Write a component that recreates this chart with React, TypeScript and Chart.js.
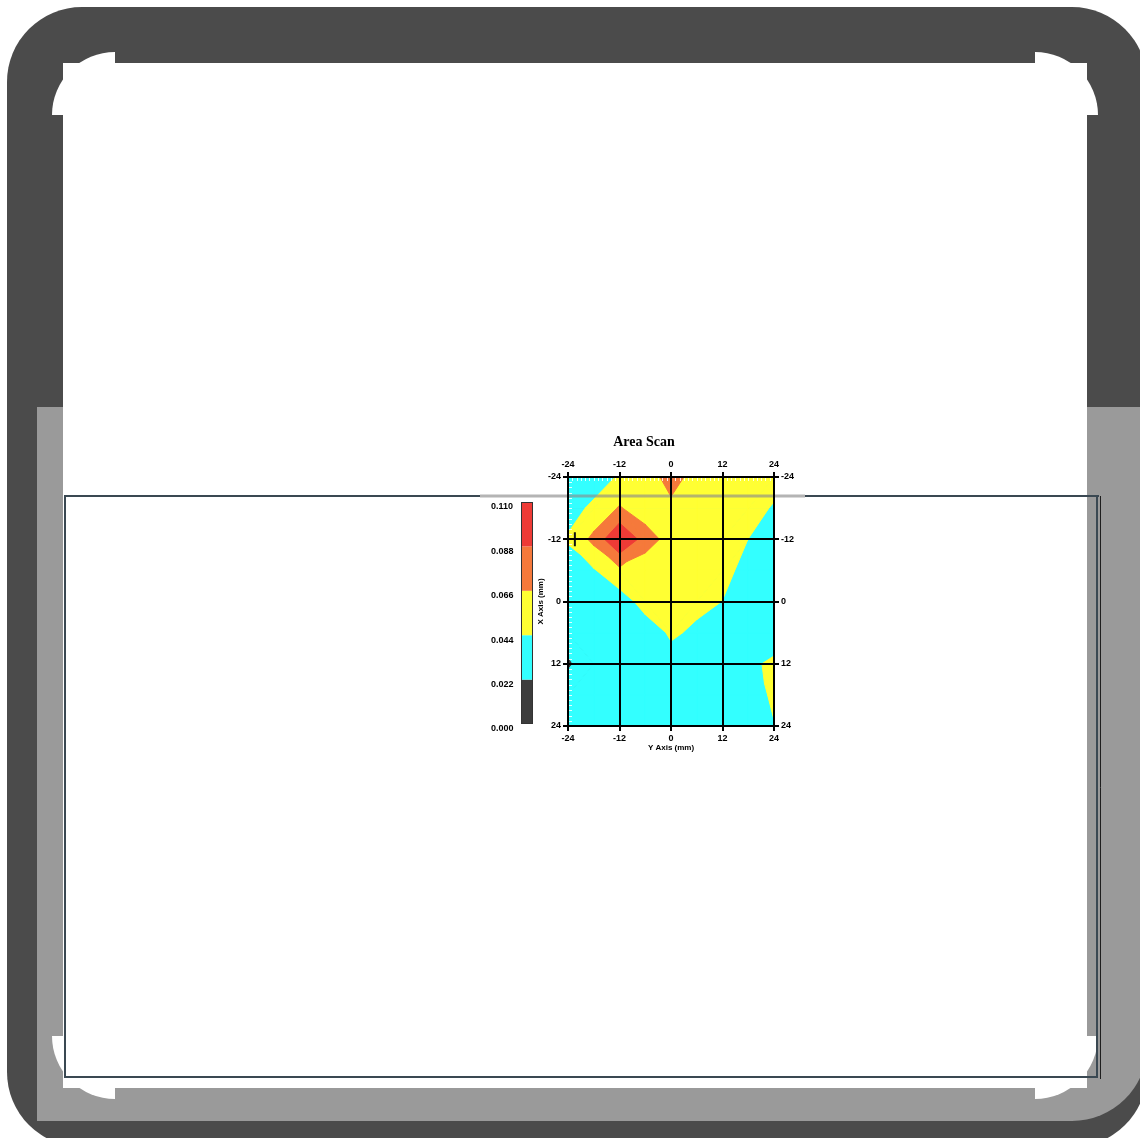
import React, { useEffect, useRef } from 'react';
import { Chart, registerables } from 'chart.js';

Chart.register(...registerables);

// ---- data ----
const GRID_X = [-24, -18, -12, -6, 0, 6, 12, 18, 24]; // "Y Axis (mm)"
const GRID_Y = [-24, -18, -12, -6, 0, 6, 12, 18, 24]; // "X Axis (mm)"
const ROW_YM24 = [0.028, 0.034, 0.046, 0.058, 0.072, 0.060, 0.055, 0.052, 0.050];
const ROW_YM18 = [0.036, 0.048, 0.068, 0.052, 0.0625, 0.056, 0.054, 0.050, 0.0425];
const ROW_YM12 = [0.046, 0.072, 0.110, 0.0786, 0.0557, 0.054, 0.052, 0.0439, 0.036];
const ROW_YM6 = [0.034, 0.042, 0.061, 0.050, 0.056, 0.054, 0.048, 0.0396, 0.034];
const ROW_Y0 = [0.030, 0.032, 0.0327, 0.0526, 0.054, 0.049, 0.0438, 0.036, 0.032];
const ROW_Y6 = [0.028, 0.031, 0.032, 0.032, 0.047, 0.0404, 0.038, 0.037, 0.035];
const ROW_Y12 = [0.020, 0.031, 0.033, 0.034, 0.036, 0.037, 0.038, 0.0406, 0.047];
const ROW_Y18 = [0.030, 0.031, 0.032, 0.033, 0.034, 0.035, 0.036, 0.038, 0.046];
const ROW_Y24 = [0.029, 0.030, 0.031, 0.032, 0.033, 0.034, 0.035, 0.037, 0.0435];
const VALUES = [ROW_YM24, ROW_YM18, ROW_YM12, ROW_YM6, ROW_Y0, ROW_Y6, ROW_Y12, ROW_Y18, ROW_Y24];

const LEVELS = [0, 0.022, 0.044, 0.066, 0.088, 0.110];
const LEVEL_LABELS = ['0.000', '0.022', '0.044', '0.066', '0.088', '0.110'];
const BAND_COLORS = ['#3c3c3c', '#33ffff', '#ffff33', '#f5793b', '#ee3b36'];
const MARKER = [{ x: -22.4, y: -12 }];
const AXIS_MIN = -24;
const AXIS_MAX = 24;
const AXIS_STEP = 12;
const MINOR_STEP = 1;
const TITLE = 'Area Scan';
const X_TITLE = 'Y Axis (mm)';
const Y_TITLE = 'X Axis (mm)';

type P = { x: number; y: number; v: number };

function clipPoly(poly: P[], L: number): P[] {
  const out: P[] = [];
  for (let i = 0; i < poly.length; i++) {
    const a = poly[i];
    const b = poly[(i + 1) % poly.length];
    const ain = a.v >= L;
    const bin = b.v >= L;
    if (ain) out.push(a);
    if (ain !== bin) {
      const t = (L - a.v) / (b.v - a.v);
      out.push({ x: a.x + t * (b.x - a.x), y: a.y + t * (b.y - a.y), v: L });
    }
  }
  return out;
}

function buildDatasets() {
  const ds: any[] = [];
  for (let k = 0; k < BAND_COLORS.length; k++) {
    const L = LEVELS[k];
    const color = BAND_COLORS[k];
    const polys: P[][] = [];
    for (let j = 0; j < GRID_Y.length - 1; j++) {
      for (let i = 0; i < GRID_X.length - 1; i++) {
        const p00 = { x: GRID_X[i], y: GRID_Y[j], v: VALUES[j][i] };
        const p10 = { x: GRID_X[i + 1], y: GRID_Y[j], v: VALUES[j][i + 1] };
        const p11 = { x: GRID_X[i + 1], y: GRID_Y[j + 1], v: VALUES[j + 1][i + 1] };
        const p01 = { x: GRID_X[i], y: GRID_Y[j + 1], v: VALUES[j + 1][i] };
        if ([p00, p10, p11, p01].every((p) => p.v >= L)) {
          polys.push([p00, p10, p11, p01]);
          continue;
        }
        // split along the diagonal whose end values are closest
        const d1 = Math.abs(p00.v - p11.v);
        const d2 = Math.abs(p10.v - p01.v);
        const tris = d1 < d2
          ? [[p00, p10, p11], [p00, p11, p01]]
          : [[p00, p10, p01], [p10, p11, p01]];
        for (const tri of tris) {
          const poly = clipPoly(tri, L);
          if (poly.length >= 3) polys.push(poly);
        }
      }
    }
    for (const poly of polys) {
      ds.push({
        data: [...poly, poly[0]].map((p) => ({ x: p.x, y: p.y })),
        backgroundColor: color,
        borderColor: color,
        borderWidth: 1,
        fill: 'shape',
        pointRadius: 0,
        pointHoverRadius: 0,
        tension: 0,
        order: BAND_COLORS.length + 1 - k,
      });
    }
  }
  ds.push({
    data: MARKER,
    showLine: false,
    fill: false,
    pointStyle: 'line',
    rotation: 90,
    pointRadius: 7,
    pointBorderWidth: 2,
    pointBorderColor: '#111',
    pointBackgroundColor: '#111',
    borderColor: '#111',
    order: 0,
  });
  return ds;
}

function rr(ctx: CanvasRenderingContext2D, x: number, y: number, w: number, h: number, r: number[]) {
  const [tl, tr, br, bl] = r;
  ctx.beginPath();
  ctx.moveTo(x + tl, y);
  ctx.lineTo(x + w - tr, y);
  if (tr) ctx.arcTo(x + w, y, x + w, y + tr, tr);
  else ctx.lineTo(x + w, y);
  ctx.lineTo(x + w, y + h - br);
  if (br) ctx.arcTo(x + w, y + h, x + w - br, y + h, br);
  else ctx.lineTo(x + w, y + h);
  ctx.lineTo(x + bl, y + h);
  if (bl) ctx.arcTo(x, y + h, x, y + h - bl, bl);
  else ctx.lineTo(x, y + h);
  ctx.lineTo(x, y + tl);
  if (tl) ctx.arcTo(x, y, x + tl, y, tl);
  else ctx.lineTo(x, y);
  ctx.closePath();
}

const framePlugin = {
  id: 'frame',
  beforeDraw(chart: any) {
    const ctx: CanvasRenderingContext2D = chart.ctx;
    ctx.save();
    ctx.fillStyle = '#ffffff';
    ctx.fillRect(0, 0, chart.width, chart.height);
    // dark outer frame
    ctx.fillStyle = '#4b4b4b';
    rr(ctx, 7, 7, 1140, 1140, [75, 75, 75, 75]);
    ctx.fill();
    // light gray lower band
    ctx.save();
    rr(ctx, 7, 7, 1140, 1114, [75, 75, 75, 0]);
    ctx.clip();
    ctx.fillStyle = '#9a9a9a';
    ctx.fillRect(37, 407, 1140, 714);
    ctx.restore();
    // white inner area
    ctx.fillStyle = '#ffffff';
    ctx.fillRect(63, 63, 1024, 1025);
    const corners: [number, number, number, number][] = [
      [115, 115, Math.PI, Math.PI * 1.5],
      [1035, 115, Math.PI * 1.5, Math.PI * 2],
      [1035, 1036, 0, Math.PI * 0.5],
      [115, 1036, Math.PI * 0.5, Math.PI],
    ];
    for (const [cx, cy, a0, a1] of corners) {
      ctx.beginPath();
      ctx.moveTo(cx, cy);
      ctx.arc(cx, cy, 63, a0, a1);
      ctx.closePath();
      ctx.fill();
    }
    // panel rectangle
    ctx.strokeStyle = '#3a4852';
    ctx.lineWidth = 2;
    ctx.beginPath();
    ctx.moveTo(65, 496);
    ctx.lineTo(480, 496);
    ctx.moveTo(805, 496);
    ctx.lineTo(1099, 496);
    ctx.moveTo(65, 495);
    ctx.lineTo(65, 1077);
    ctx.lineTo(1098, 1077);
    ctx.moveTo(1097, 496);
    ctx.lineTo(1097, 1077);
    ctx.stroke();
    ctx.strokeStyle = '#1e1e1e';
    ctx.lineWidth = 1;
    ctx.beginPath();
    ctx.moveTo(1100.5, 496);
    ctx.lineTo(1100.5, 1079);
    ctx.stroke();
    ctx.restore();
  },
  afterDatasetsDraw(chart: any) {
    const ctx: CanvasRenderingContext2D = chart.ctx;
    const xs = chart.scales.x;
    const ys = chart.scales.y;
    const area = chart.chartArea;
    ctx.save();
    // faint inner minor ticks along the top and left edges
    ctx.strokeStyle = 'rgba(255,255,255,0.85)';
    ctx.lineWidth = 1;
    ctx.beginPath();
    for (let v = AXIS_MIN + MINOR_STEP; v < AXIS_MAX; v += MINOR_STEP) {
      if (v % AXIS_STEP === 0) continue;
      const px = Math.round(xs.getPixelForValue(v)) + 0.5;
      ctx.moveTo(px, area.top + 1);
      ctx.lineTo(px, area.top + 4);
      const py = Math.round(ys.getPixelForValue(v)) + 0.5;
      ctx.moveTo(area.left + 1, py);
      ctx.lineTo(area.left + 4, py);
    }
    ctx.stroke();
    // translucent panel edge crossing the chart
    ctx.strokeStyle = 'rgba(140,140,140,0.65)';
    ctx.lineWidth = 3;
    ctx.beginPath();
    ctx.moveTo(480, 496);
    ctx.lineTo(805, 496);
    ctx.stroke();
    ctx.restore();
  },
  afterDraw(chart: any) {
    const ctx: CanvasRenderingContext2D = chart.ctx;
    ctx.save();
    // title
    ctx.fillStyle = '#000';
    ctx.font = 'bold 14px "Liberation Serif"';
    ctx.textAlign = 'center';
    ctx.textBaseline = 'middle';
    ctx.fillText(TITLE, 644, 442);
    // colour bar
    const bx = 521;
    const bw = 12;
    const top = 502;
    const bottom = 724;
    const vmax = LEVELS[LEVELS.length - 1];
    const yOf = (v: number) => bottom - (v / vmax) * (bottom - top);
    for (let k = 0; k < BAND_COLORS.length; k++) {
      const y0 = yOf(LEVELS[k + 1]);
      const y1 = yOf(LEVELS[k]);
      ctx.fillStyle = BAND_COLORS[k];
      ctx.fillRect(bx, y0, bw, y1 - y0);
    }
    ctx.strokeStyle = '#333';
    ctx.lineWidth = 1;
    ctx.strokeRect(bx + 0.5, top + 0.5, bw - 1, bottom - top - 1);
    ctx.fillStyle = '#000';
    ctx.font = 'bold 9px "Liberation Sans"';
    ctx.textAlign = 'left';
    ctx.textBaseline = 'middle';
    for (let k = 0; k < LEVELS.length; k++) {
      ctx.fillText(LEVEL_LABELS[k], 491, yOf(LEVELS[k]) + 5);
    }
    ctx.restore();
  },
};

const tickFont = { family: '"Liberation Sans"', size: 9, weight: 'bold' as const };

function axis(position: string, main: boolean, size: number, extra: any = {}) {
  const horizontal = position === 'top' || position === 'bottom';
  return {
    type: 'linear',
    position,
    min: AXIS_MIN,
    max: AXIS_MAX,
    afterFit: (s: any) => {
      if (horizontal) s.height = size;
      else s.width = size;
    },
    ticks: {
      stepSize: AXIS_STEP,
      color: '#000',
      font: tickFont,
      padding: 2,
      maxRotation: 0,
      autoSkip: false,
      z: 1,
    },
    grid: {
      color: '#000',
      lineWidth: 2,
      tickLength: 5,
      drawOnChartArea: main,
      drawTicks: true,
      z: 1,
    },
    border: { display: true, color: '#000', width: 2, z: 1 },
    ...extra,
  };
}

export default function App() {
  const ref = useRef<HTMLCanvasElement>(null);
  useEffect(() => {
    if (!ref.current) return;
    const chart = new Chart(ref.current, {
      type: 'line',
      data: { datasets: buildDatasets() },
      options: {
        responsive: false,
        animation: false,
        devicePixelRatio: 1,
        events: [],
        layout: { padding: { left: 536, right: 340, top: 461, bottom: 385 } },
        plugins: {
          legend: { display: false },
          tooltip: { enabled: false },
          title: { display: false },
        },
        scales: {
          x: axis('bottom', true, 27, {
            title: {
              display: true,
              text: X_TITLE,
              color: '#000',
              font: { family: '"Liberation Sans"', size: 8, weight: 'bold' },
              padding: 0,
            },
          }),
          x2: axis('top', false, 16),
          y: axis('left', true, 32, {
            reverse: true,
            title: {
              display: true,
              text: Y_TITLE,
              color: '#000',
              font: { family: '"Liberation Sans"', size: 8, weight: 'bold' },
              padding: 0,
            },
          }),
          y2: axis('right', false, 26, { reverse: true }),
        },
      } as any,
      plugins: [framePlugin as any],
    });
    return () => chart.destroy();
  }, []);
  return (
    <canvas
      ref={ref}
      width={1140}
      height={1138}
      style={{ position: 'absolute', left: 0, top: 0, width: 1140, height: 1138 }}
    />
  );
}
